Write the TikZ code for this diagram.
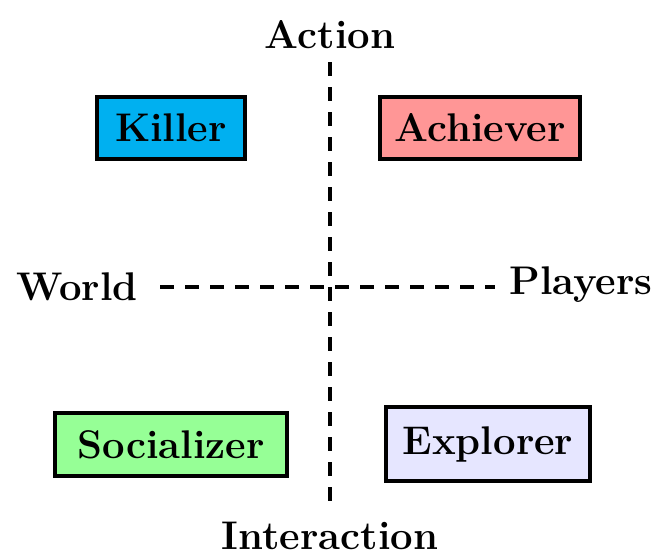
\documentclass[tikz,border=0pt]{standalone}
\usetikzlibrary{positioning}
\definecolor{killerc}{RGB}{0,176,240}
\definecolor{achc}{RGB}{255,150,150}
\definecolor{socc}{RGB}{150,255,150}
\definecolor{expc}{RGB}{230,230,255}
\begin{document}
\begin{tikzpicture}[x=1pt,y=-1pt,
  typebox/.style={draw=black,line width=3.5pt,inner sep=0pt,font=\fontsize{40}{44}\selectfont\bfseries},
  axislabel/.style={inner sep=0pt,font=\fontsize{40}{44}\selectfont\bfseries},
  axis/.style={line width=3.5pt,dash pattern=on 14pt off 11pt}]
\useasboundingbox (0,0) rectangle (671,558);
\node[axislabel] (action) at (330,35) {Action};
\node[axislabel] (inter) at (330,536) {Interaction};
\node[axislabel] (world) at (77,287) {World};
\node[axislabel] (players) at (581,285) {Players};
\coordinate (vtop) at (330,62);
\coordinate (vbot) at (330,505);
\coordinate (hleft) at (160,287);
\coordinate (hright) at (495,287);
\draw[axis] (vtop) -- (vbot);
\draw[axis] (hleft) -- (hright);
\node[typebox,fill=killerc,minimum width=148pt,minimum height=62pt] (killer) at (171,128) {Killer};
\node[typebox,fill=achc,minimum width=200pt,minimum height=62pt] (achiever) at (480,128) {Achiever};
\node[typebox,fill=socc,minimum width=232pt,minimum height=63pt] (social) at (171,444.5) {Socializer};
\node[typebox,fill=expc,minimum width=204pt,minimum height=74pt] (explorer) at (488,444) {Explorer};
\end{tikzpicture}
\end{document}
